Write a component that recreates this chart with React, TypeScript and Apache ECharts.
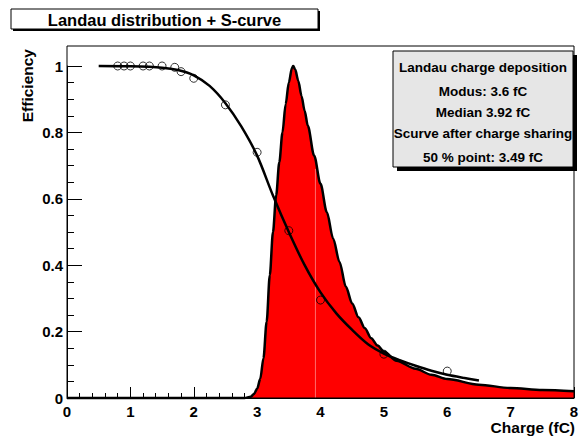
import React, { useEffect, useRef } from "react";
import * as echarts from "echarts";

const FONT = '"Liberation Sans", Arial, Helvetica, sans-serif';

const titleText = "Landau distribution + S-curve";
const xTitle = "Charge (fC)";
const yTitle = "Efficiency";
const statsLines = [
  "Landau charge deposition",
  "Modus: 3.6 fC",
  "Median 3.92 fC",
  "Scurve after charge sharing",
  "50 % point: 3.49 fC",
];

// Landau charge deposition (normalised)
const landauX = [0, 2.8, 2.9, 2.95, 3.0, 3.05, 3.1, 3.15, 3.2, 3.25, 3.3, 3.35, 3.4, 3.45, 3.5, 3.55, 3.57, 3.6, 3.65, 3.7, 3.75, 3.8, 3.9, 4.0, 4.1, 4.2, 4.3, 4.4, 4.5, 4.6, 4.7, 4.8, 4.9, 5.0, 5.2, 5.5, 5.75, 6.0, 6.5, 7.0, 7.5, 8.0];
const landauY = [0, 0, 0.004, 0.012, 0.028, 0.058, 0.12, 0.23, 0.37, 0.5, 0.61, 0.71, 0.8, 0.885, 0.95, 0.995, 1.0, 0.99, 0.955, 0.91, 0.865, 0.82, 0.73, 0.645, 0.56, 0.48, 0.41, 0.335, 0.285, 0.243, 0.21, 0.18, 0.158, 0.14, 0.112, 0.088, 0.07, 0.057, 0.04, 0.03, 0.024, 0.02];

// S-curve fit
const scurveX = [0.5, 1.0, 1.5, 1.75, 2.0, 2.25, 2.5, 2.75, 3.0, 3.25, 3.5, 3.75, 4.0, 4.25, 4.5, 4.75, 5.0, 5.25, 5.5, 5.75, 6.0, 6.25, 6.5];
const scurveY = [1.0, 0.999, 0.995, 0.988, 0.972, 0.94, 0.888, 0.818, 0.73, 0.61, 0.5, 0.4, 0.318, 0.255, 0.205, 0.162, 0.134, 0.114, 0.097, 0.082, 0.07, 0.061, 0.053];

// measured efficiency points
const measX = [0.8, 0.9, 1.0, 1.2, 1.3, 1.5, 1.7, 1.8, 2.0, 2.5, 3.0, 3.5, 4.0, 5.0, 6.0];
const measY = [1, 1, 1, 1, 1, 1, 0.996, 0.983, 0.963, 0.883, 0.74, 0.504, 0.295, 0.132, 0.081];

// faint median marker inside the filled area
const medianX = [3.92, 3.92];
const medianY = [0, 0.69];

const xTicks = { min: 0, max: 8, interval: 1 };
const yTicks = { min: 0, max: 1, interval: 0.2 };

export default function App() {
  const ref = useRef<HTMLDivElement>(null);
  useEffect(() => {
    if (!ref.current) return;
    const chart = echarts.init(ref.current, undefined, { renderer: "svg" });
    const zip = (xs: number[], ys: number[]) => xs.map((x, i) => [x, ys[i]]);
    const labelStyle = { color: "#000", fontSize: 15, fontWeight: "bold", fontFamily: FONT };
    chart.setOption({
      animation: false,
      backgroundColor: "#fff",
      grid: { left: 67, right: 8, top: 66, bottom: 38, containLabel: false },
      xAxis: {
        type: "value",
        ...xTicks,
        axisLine: { show: true, onZero: false, lineStyle: { color: "#000", width: 1 } },
        axisTick: { show: true, inside: true, length: 11, lineStyle: { color: "#000", width: 1 } },
        minorTick: { show: true, splitNumber: 5, length: 5, lineStyle: { color: "#000", width: 1 } },
        splitLine: { show: false },
        axisLabel: { ...labelStyle, margin: 6 },
      },
      yAxis: {
        type: "value",
        ...yTicks,
        axisLine: { show: true, onZero: false, lineStyle: { color: "#000", width: 1 } },
        axisTick: { show: true, inside: true, length: 15, lineStyle: { color: "#000", width: 1 } },
        minorTick: { show: true, splitNumber: 4, length: 7, lineStyle: { color: "#000", width: 1 } },
        splitLine: { show: false },
        axisLabel: { ...labelStyle, margin: 4 },
      },
      series: [
        {
          type: "line",
          data: zip(landauX, landauY),
          symbol: "none",
          smooth: 0.3,
          smoothMonotone: "x",
          clip: false,
          lineStyle: { color: "#000", width: 2.5 },
          areaStyle: { color: "#ff0000", opacity: 1 },
          z: 2,
        },
        {
          type: "line",
          data: zip(medianX, medianY),
          symbol: "none",
          clip: false,
          lineStyle: { color: "#ff6a6a", width: 1 },
          z: 3,
        },
        {
          type: "line",
          data: zip(scurveX, scurveY),
          symbol: "none",
          smooth: 0.3,
          clip: false,
          lineStyle: { color: "#000", width: 2.5 },
          z: 4,
        },
        {
          type: "scatter",
          data: zip(measX, measY),
          symbol: "circle",
          symbolSize: 8,
          clip: false,
          itemStyle: { color: "none", borderColor: "#000", borderWidth: 1 },
          z: 5,
        },
      ],
      graphic: [
        // plot frame
        { type: "rect", shape: { x: 67, y: 46, width: 507, height: 352 }, style: { fill: "none", stroke: "#000", lineWidth: 1 }, z: 10 },
        // title box
        { type: "rect", shape: { x: 13, y: 11, width: 307, height: 20 }, style: { fill: "#000" }, z: 10 },
        { type: "rect", shape: { x: 11, y: 9, width: 307, height: 20 }, style: { fill: "#fff", stroke: "#000", lineWidth: 1 }, z: 11 },
        { type: "text", x: 164.5, y: 19.5, style: { text: titleText, fill: "#000", font: `bold 16.5px ${FONT}`, textAlign: "center", textVerticalAlign: "middle" }, z: 12 },
        // stats box
        { type: "rect", shape: { x: 397, y: 55, width: 180, height: 116 }, style: { fill: "#000" }, z: 10 },
        { type: "rect", shape: { x: 393, y: 51, width: 180, height: 116 }, style: { fill: "#e6e6e6", stroke: "#000", lineWidth: 1 }, z: 11 },
        ...statsLines.map((t, i) => ({
          type: "text",
          x: 483,
          y: [67, 91.5, 112, 133, 157][i],
          style: { text: t, fill: "#000", font: `bold 13.5px ${FONT}`, textAlign: "center", textVerticalAlign: "middle" },
          z: 12,
        })),
        // axis titles
        { type: "text", x: 575, y: 427, style: { text: xTitle, fill: "#000", font: `bold 15.5px ${FONT}`, textAlign: "right", textVerticalAlign: "middle" }, z: 12 },
        { type: "text", x: 27, y: 49, rotation: Math.PI / 2, style: { text: yTitle, fill: "#000", font: `bold 15.5px ${FONT}`, textAlign: "right", textVerticalAlign: "middle" }, z: 12 },
      ],
    });
    return () => chart.dispose();
  }, []);
  return <div ref={ref} style={{ position: "fixed", left: 0, top: 0, width: 582, height: 436 }} />;
}
